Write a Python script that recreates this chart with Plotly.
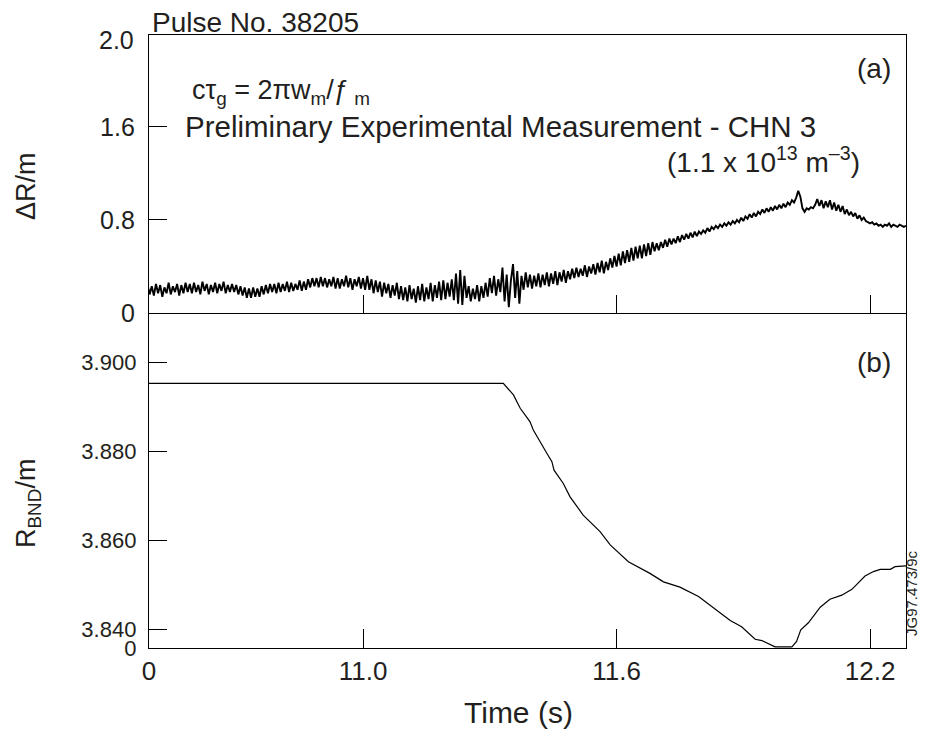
import numpy as np
import plotly.graph_objects as go

# ---------------- data ----------------
# Panel (a): Delta R (m), sampled every 5 ms starting at 10.49 s
t_start = 10.49
t_step = 0.005
dr_vals = [
    0.24,0.16,0.23,0.15,0.25,0.17,0.24,0.14,0.22,0.17,0.26,0.16,0.23,0.18,0.25,0.15,0.24,0.17,0.26,0.18,
    0.25,0.17,0.26,0.18,0.24,0.16,0.27,0.19,0.25,0.16,0.24,0.18,0.26,0.17,0.25,0.19,0.27,0.17,0.24,0.18,
    0.25,0.18,0.24,0.16,0.23,0.15,0.22,0.13,0.21,0.13,0.22,0.14,0.21,0.14,0.23,0.16,0.24,0.17,0.25,0.18,
    0.25,0.17,0.26,0.18,0.25,0.19,0.27,0.18,0.26,0.19,0.25,0.20,0.28,0.19,0.27,0.20,0.29,0.22,0.30,0.23,
    0.30,0.22,0.31,0.23,0.30,0.22,0.29,0.23,0.31,0.21,0.30,0.21,0.29,0.23,0.32,0.22,0.30,0.20,0.29,0.23,
    0.31,0.21,0.30,0.20,0.32,0.20,0.29,0.17,0.28,0.18,0.27,0.14,0.26,0.17,0.25,0.13,0.24,0.15,0.26,0.12,
    0.23,0.11,0.22,0.10,0.24,0.12,0.21,0.09,0.23,0.11,0.25,0.10,0.22,0.12,0.26,0.10,0.24,0.13,0.27,0.11,
    0.28,0.12,0.26,0.14,0.29,0.11,0.34,0.08,0.37,0.07,0.32,0.13,0.23,0.10,0.21,0.12,0.24,0.10,0.23,0.13,
    0.26,0.14,0.30,0.17,0.32,0.15,0.29,0.18,0.39,0.10,0.33,0.05,0.28,0.42,0.13,0.36,0.08,0.32,0.20,0.35,
    0.22,0.33,0.21,0.32,0.23,0.34,0.22,0.33,0.24,0.35,0.23,0.34,0.25,0.36,0.24,0.35,0.27,0.37,0.26,0.36,
    0.29,0.38,0.30,0.39,0.31,0.38,0.32,0.41,0.31,0.40,0.34,0.42,0.33,0.43,0.35,0.45,0.34,0.44,0.37,0.47,
    0.39,0.49,0.40,0.51,0.41,0.53,0.43,0.54,0.44,0.56,0.45,0.57,0.47,0.58,0.47,0.59,0.49,0.60,0.50,0.61,
    0.53,0.60,0.54,0.61,0.56,0.63,0.57,0.64,0.59,0.64,0.60,0.66,0.61,0.67,0.63,0.68,0.64,0.69,0.65,0.70,
    0.66,0.70,0.68,0.71,0.69,0.73,0.70,0.74,0.72,0.75,0.73,0.76,0.74,0.77,0.75,0.78,0.76,0.79,0.77,0.80,
    0.78,0.82,0.79,0.83,0.81,0.85,0.82,0.86,0.83,0.87,0.85,0.89,0.86,0.90,0.87,0.91,0.88,0.92,0.89,0.93,
    0.90,0.94,0.91,0.95,0.93,0.97,0.95,0.99,1.05,1.00,0.90,0.87,0.90,0.89,0.91,0.90,0.93,0.98,0.92,0.97,
    0.90,0.96,0.91,0.97,0.89,0.95,0.88,0.93,0.87,0.92,0.85,0.89,0.84,0.87,0.83,0.86,0.81,0.84,0.80,0.82,
    0.79,0.78,0.77,0.78,0.76,0.77,0.75,0.76,0.74,0.76,0.75,0.77,0.74,0.76,0.75,0.74,0.76,0.75,0.74,0.75,
]
t_dr = np.round(t_start + t_step * np.arange(len(dr_vals)), 4)

# Panel (b): R_BND (m)
t_rb = [10.49, 11.332, 11.356, 11.372, 11.395, 11.403, 11.435, 11.447, 11.452, 11.462,
        11.474, 11.490, 11.521, 11.561, 11.585, 11.628, 11.679, 11.711, 11.750, 11.794,
        11.841, 11.869, 11.896, 11.928, 11.944, 11.975, 12.015, 12.026, 12.036, 12.054,
        12.082, 12.105, 12.133, 12.157, 12.188, 12.208, 12.224, 12.248, 12.259, 12.285]
rb_vals = [3.8952, 3.8952, 3.8926, 3.8896, 3.8866, 3.8847, 3.8795, 3.8776, 3.8757, 3.8742,
           3.8727, 3.8697, 3.8656, 3.8619, 3.8589, 3.8551, 3.8525, 3.8506, 3.8494, 3.8473,
           3.8439, 3.8419, 3.8405, 3.8377, 3.8374, 3.8360, 3.8360, 3.8372, 3.8398, 3.8414,
           3.8449, 3.8467, 3.8476, 3.8489, 3.8519, 3.8529, 3.8534, 3.8534, 3.8540, 3.8542]

x_range = [10.4935, 12.285]
x_tickvals = [10.4935, 11.0, 11.6, 12.2]
x_ticktext = ["0", "11.0", "11.6", "12.2"]
ya_tickvals = [0, 0.8, 1.6]
ya_ticktext = ["0", "0.8", "1.6"]
yb_range = [3.83573, 3.91101]
yb_tickvals = [3.83573, 3.84, 3.86, 3.88, 3.90]
yb_ticktext = ["0", "3.840", "3.860", "3.880", "3.900"]

# ---------------- figure ----------------
FONT = "Liberation Sans, Arial, Helvetica, sans-serif"
TXT = "#231f20"
OFF = 8                      # page body margin
W, H = 918, 725
ML, MT, MB = 141, 27, 85
PW = 757
PH = H - MT - MB
MR = W - ML - PW


def px(xs):
    return (xs - OFF - ML) / PW


def py(ys):
    return (H - MB - (ys - OFF)) / PH


split = py(313)

fig = go.Figure()
fig.add_trace(go.Scatter(x=t_dr, y=dr_vals, xaxis="x2", yaxis="y2", mode="lines",
                         line=dict(color="black", width=1.9), showlegend=False))
fig.add_trace(go.Scatter(x=t_rb, y=rb_vals, xaxis="x", yaxis="y", mode="lines",
                         line=dict(color="black", width=1.2), showlegend=False))

axis_common = dict(showline=True, linecolor="black", linewidth=1.4,
                   showgrid=False, zeroline=False, ticks="inside", tickcolor="black",
                   tickwidth=1.3)

fig.update_layout(
    width=W, height=H,
    margin=dict(l=ML, r=MR, t=MT, b=MB),
    paper_bgcolor="white", plot_bgcolor="white",
    font=dict(family=FONT, color=TXT),
    xaxis=dict(domain=[0, 1], anchor="y", range=x_range, tickvals=x_tickvals, mirror=False,
               ticktext=x_ticktext, ticklen=19, tickfont=dict(size=26), **axis_common),
    xaxis2=dict(domain=[0, 1], anchor="y2", range=x_range, tickvals=[11.0, 11.6, 12.2],
                mirror=True, showticklabels=False, ticklen=18, **axis_common),
    yaxis=dict(domain=[0, split], anchor="x", range=yb_range, tickvals=yb_tickvals, mirror=True,
               ticktext=yb_ticktext, ticklen=18, tickfont=dict(size=22),
               ticklabelstandoff=7, **axis_common),
    yaxis2=dict(domain=[split, 1], anchor="x2", range=[0, 2.39], tickvals=ya_tickvals, mirror=True,
                ticktext=ya_ticktext, ticklen=18, tickfont=dict(size=25),
                ticklabelstandoff=8, **axis_common),
)

ann = [
    dict(text="Pulse No. 38205", x=px(150), y=py(22), xanchor="left", yanchor="middle", size=28),
    dict(text="cτ<sub>g</sub> = 2πw<sub>m</sub>/ƒ<sub> m</sub>", x=px(190), y=py(92),
         xanchor="left", yanchor="middle", size=27),
    dict(text="Preliminary Experimental Measurement - CHN 3", x=px(183), y=py(126),
         xanchor="left", yanchor="middle", size=29.5),
    dict(text="(1.1 x 10<sup>13</sup> m<sup>–3</sup>)", x=px(862), y=py(160),
         xanchor="right", yanchor="middle", size=28),
    dict(text="(a)", x=px(893), y=py(68), xanchor="right", yanchor="middle", size=28),
    dict(text="(b)", x=px(893), y=py(362), xanchor="right", yanchor="middle", size=28),
    dict(text="2.0", x=px(136), y=py(40), xanchor="right", yanchor="middle", size=25),
    dict(text="Time (s)", x=px(518), y=py(712), xanchor="center", yanchor="middle", size=30),
]
for a in ann:
    fig.add_annotation(text=a["text"], xref="paper", yref="paper", x=a["x"], y=a["y"],
                       xanchor=a["xanchor"], yanchor=a["yanchor"], showarrow=False,
                       font=dict(size=a["size"], family=FONT, color=TXT))

rot = [
    dict(text="ΔR/m", x=px(26), y=py(186), size=27),
    dict(text="R<sub>BND</sub>/m", x=px(28), y=py(503), size=27),
    dict(text="JG97.473/9c", x=px(911), y=py(593), size=15),
]
for a in rot:
    fig.add_annotation(text=a["text"], xref="paper", yref="paper", x=a["x"], y=a["y"],
                       xanchor="center", yanchor="middle", textangle=-90, showarrow=False,
                       font=dict(size=a["size"], family=FONT, color=TXT))

fig.write_html("out.html")
